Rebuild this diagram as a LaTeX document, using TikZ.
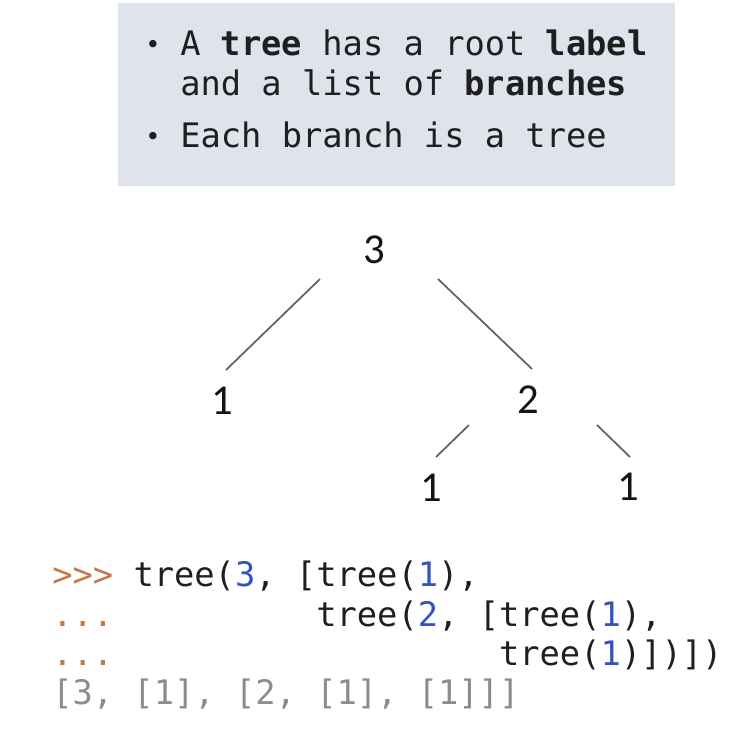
\documentclass[tikz,border=0pt]{standalone}
\usepackage{fontspec}
\setmonofont{DejaVu Sans Mono}
\newfontfamily\digitfont{Carlito}
\definecolor{boxfill}{RGB}{223,227,235}
\definecolor{promptcol}{RGB}{196,120,70}
\definecolor{numcol}{RGB}{50,82,190}
\definecolor{outcol}{RGB}{140,140,140}
\newcommand{\pr}[1]{\textcolor{promptcol}{#1}}
\newcommand{\nm}[1]{\textcolor{numcol}{#1}}

\begin{document}
\begin{tikzpicture}[x=0.75pt, y=-0.75pt,
        treenum/.style={inner sep=0pt, font=\digitfont\fontsize{32}{32}\selectfont, text=black!92},
        branch/.style={draw=black!62, line width=1.3pt},
        boxline/.style={anchor=base west, inner sep=0pt, font=\ttfamily\fontsize{25.3}{30}\selectfont, text=black!88},
        bulletmark/.style={anchor=base, inner sep=0pt, font=\ttfamily\fontsize{19}{20}\selectfont, text=black!88},
        codeline/.style={anchor=base west, inner sep=0pt, font=\ttfamily\fontsize{25.3}{30}\selectfont, text=black!88}
    ]
    \useasboundingbox (0,0) rectangle (735,728);

    % the grey box with the two points
    \fill[boxfill] (118,3) rectangle (675,186);
    \node (dot_a) [bulletmark] at (153,53) {•};
    \node (line_a) [boxline] at (180,55) {A \textbf{tree} has a root \textbf{label}};
    \node (line_b) [boxline] at (180,95) {and a list of \textbf{branches}};
    \node (dot_b) [bulletmark] at (153,145) {•};
    \node (line_c) [boxline] at (180,147) {Each branch is a tree};

    % the tree
    \node (root) [treenum] at (374,250) {3};
    \node (leaf_l) [treenum] at (222,401) {1};
    \node (mid) [treenum] at (528,400) {2};
    \node (leaf_ml) [treenum] at (431,488) {1};
    \node (leaf_mr) [treenum] at (628,487) {1};

    \draw [branch] ([shift={(-54,29)}]root.center) -- ([shift={(4,-31)}]leaf_l.center);
    \draw [branch] ([shift={(64,29)}]root.center) -- ([shift={(4,-31)}]mid.center);
    \draw [branch] ([shift={(-59,25)}]mid.center) -- ([shift={(5,-31)}]leaf_ml.center);
    \draw [branch] ([shift={(69,25)}]mid.center) -- ([shift={(2,-30)}]leaf_mr.center);

    % the code
    \node (code_a) [codeline] at (52,586) {\pr{>>>} tree(\nm{3}, [tree(\nm{1}),};
    \node (code_b) [codeline] at (52,626) {\pr{...}~~~~~~~~~~tree(\nm{2}, [tree(\nm{1}),};
    \node (code_c) [codeline] at (52,665) {\pr{...}~~~~~~~~~~~~~~~~~~~tree(\nm{1})])])};
    \node (code_d) [codeline, text=outcol] at (52,704) {[3, [1], [2, [1], [1]]]};
\end{tikzpicture}
\end{document}
